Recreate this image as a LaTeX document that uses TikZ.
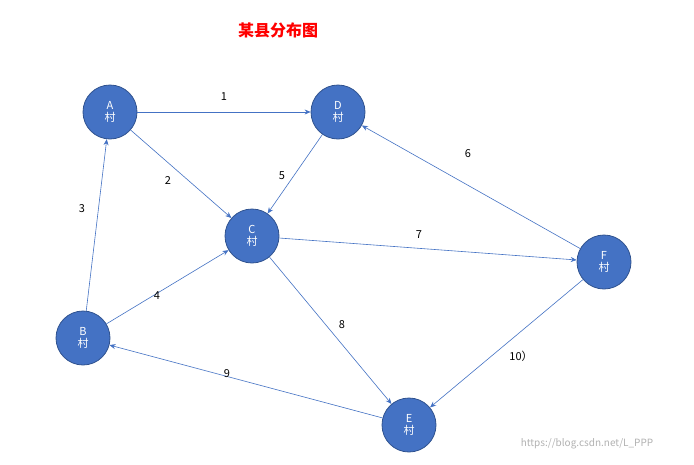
\documentclass[tikz,border=0pt]{standalone}
\usepackage{fontspec}
\setmainfont{Noto Sans CJK SC}
\usetikzlibrary{arrows.meta}
\definecolor{nodefill}{HTML}{4472C4}
\definecolor{nodeline}{HTML}{2F528F}
\tikzset{
  village/.style={circle,fill=nodefill,draw=nodeline,line width=0.8pt,minimum size=54pt,inner sep=0pt,text=white,font=\fontsize{11}{12}\selectfont,align=center},
  edge/.style={draw=nodefill,line width=0.6pt,-{Stealth[length=6pt,width=5pt]}},
  lbl/.style={font=\fontsize{11}{12}\selectfont,text=black}
}
\begin{document}
\begin{tikzpicture}[x=1pt,y=-1pt]
\useasboundingbox[fill=white] (0,0) rectangle (694,464);
\node[text=red,font=\fontsize{16}{18}\selectfont\bfseries] (title) at (278,30) {某县分布图};
\node[village] (A) at (110,112) {A\\村};
\node[village] (D) at (338,112) {D\\村};
\node[village] (C) at (252,236) {C\\村};
\node[village] (F) at (604,262) {F\\村};
\node[village] (B) at (83,338) {B\\村};
\node[village] (E) at (409,425) {E\\村};
\draw[edge] (A) -- (D);
\draw[edge] (A) -- (C);
\draw[edge] (B) -- (A);
\draw[edge] (B) -- (C);
\draw[edge] (D) -- (C);
\draw[edge] (F) -- (D);
\draw[edge] (C) -- (F);
\draw[edge] (C) -- (E);
\draw[edge] (E) -- (B);
\draw[edge] (F) -- (E);
\node[lbl] (l1) at (224,97) {1};
\node[lbl] (l2) at (168,181) {2};
\node[lbl] (l3) at (82,209) {3};
\node[lbl] (l4) at (157,296) {4};
\node[lbl] (l5) at (282,176) {5};
\node[lbl] (l6) at (468,154) {6};
\node[lbl] (l7) at (419,235) {7};
\node[lbl] (l8) at (342,325) {8};
\node[lbl] (l9) at (227,374) {9};
\node[lbl] (l10) at (521,356) {10）};
\node[text=gray!60,font=\fontsize{10}{12}\selectfont] (wm) at (587,444) {https://blog.csdn.net/L\_PPP};
\end{tikzpicture}
\end{document}
